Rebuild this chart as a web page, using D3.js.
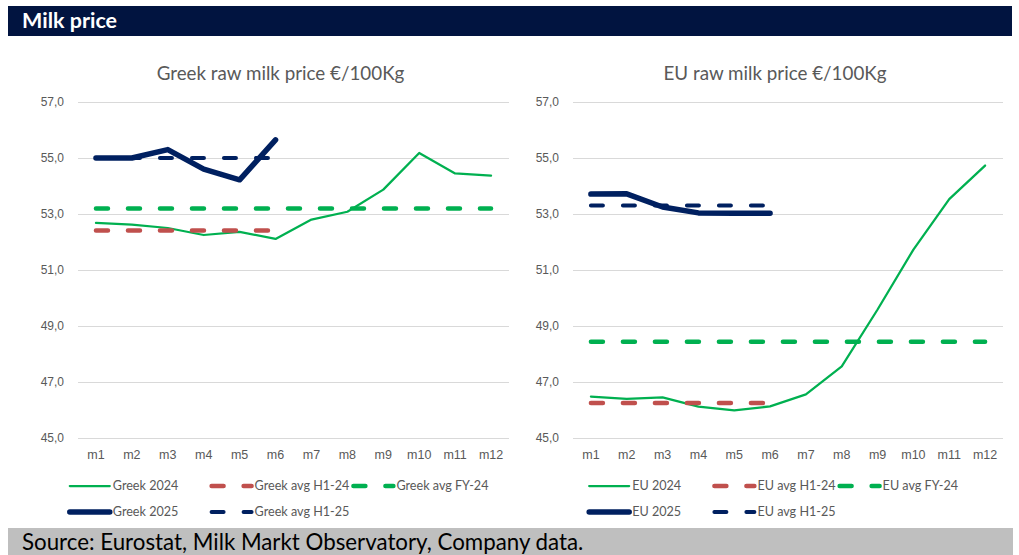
<!DOCTYPE html>
<html>
<head>
<meta charset="utf-8">
<script src="https://cdn.jsdelivr.net/npm/d3@7"></script>
<style>
  body { margin: 0; background: #fff; }
  svg { display: block; font-family: Lato, 'Open Sans', sans-serif; }
</style>
</head>
<body>
<svg id="chart" width="1019" height="555"></svg>
<script>
const months = ['m1', 'm2', 'm3', 'm4', 'm5', 'm6', 'm7', 'm8', 'm9', 'm10', 'm11', 'm12'];
const yTicks = [45, 47, 49, 51, 53, 55, 57];

// Greek raw milk price
const greek2024 = [52.68, 52.62, 52.5, 52.25, 52.36, 52.11, 52.8, 53.08, 53.87, 55.18, 54.45, 54.37];
const greekAvgH124 = [52.41, 52.41, 52.41, 52.41, 52.41, 52.41];
const greekAvgFY24 = [53.2, 53.2, 53.2, 53.2, 53.2, 53.2, 53.2, 53.2, 53.2, 53.2, 53.2, 53.2];
const greek2025 = [55.0, 55.0, 55.3, 54.6, 54.22, 55.65];
const greekAvgH125 = [55.0, 55.0, 55.0, 55.0, 55.0, 55.0];

// EU raw milk price
const eu2024 = [46.48, 46.4, 46.45, 46.12, 45.99, 46.13, 46.56, 47.56, 49.59, 51.73, 53.53, 54.73];
const euAvgH124 = [46.25, 46.25, 46.25, 46.25, 46.25, 46.25];
const euAvgFY24 = [48.44, 48.44, 48.44, 48.44, 48.44, 48.44, 48.44, 48.44, 48.44, 48.44, 48.44, 48.44];
const eu2025 = [53.71, 53.72, 53.25, 53.04, 53.03, 53.03];
const euAvgH125 = [53.3, 53.3, 53.3, 53.3, 53.3, 53.3];

const GREEN = '#00B050';
const RED = '#C0504D';
const NAVY = '#002060';
const TXT = '#595959';

const svg = d3.select('#chart');

// header bar
svg.append('rect')
  .attr('x', 8).attr('y', 6)
  .attr('width', 1004).attr('height', 30)
  .attr('fill', '#011440');
svg.append('text')
  .attr('x', 22).attr('y', 28)
  .attr('fill', '#fff')
  .style('font-size', '21.5px')
  .style('font-weight', 'bold')
  .text('Milk price');

// footer bar
svg.append('rect')
  .attr('x', 8).attr('y', 528)
  .attr('width', 1005).attr('height', 27)
  .attr('fill', '#BFBFBF');
svg.append('text')
  .attr('x', 22).attr('y', 550)
  .attr('fill', '#000')
  .style('font-size', '22.3px')
  .text('Source: Eurostat, Milk Markt Observatory, Company data.');

const drawChart = (cfg) => {
  const g = svg.append('g');
  const x = d3.scaleBand().domain(months).range([cfg.x0, cfg.x1]);
  const y = d3.scaleLinear().domain([45, 57]).range([438, 102]);
  const cx = d => x(d) + x.bandwidth() / 2;
  const centre = (cfg.x0 + cfg.x1) / 2 - 11;

  g.append('text')
    .attr('x', centre - 2).attr('y', 80)
    .attr('text-anchor', 'middle')
    .attr('fill', TXT)
    .style('font-size', '18.8px')
    .text(cfg.title);

  // grid + y labels
  const yAxis = g.append('g')
    .attr('transform', `translate(${cfg.x0},0)`)
    .call(d3.axisLeft(y).tickValues(yTicks).tickFormat(d => d3.format('.1f')(d).replace('.', ','))
      .tickSize(-(cfg.x1 - cfg.x0)).tickPadding(14));
  yAxis.select('.domain').remove();
  yAxis.selectAll('.tick line').attr('stroke', '#D9D9D9');
  yAxis.selectAll('.tick text').attr('fill', TXT).style('font-size', '12px').style('font-family', 'inherit');

  // x labels
  const xAxis = g.append('g')
    .attr('transform', 'translate(0,438)')
    .call(d3.axisBottom(x).tickSize(0).tickPadding(12));
  xAxis.select('.domain').remove();
  xAxis.selectAll('.tick text').attr('fill', TXT).style('font-size', '12.5px').style('font-family', 'inherit');

  const line = d3.line()
    .x((d, i) => cx(months[i]))
    .y(d => y(d));

  cfg.series.forEach(s => {
    g.append('path')
      .datum(s.values)
      .attr('d', line)
      .attr('fill', 'none')
      .attr('stroke', s.color)
      .attr('stroke-width', s.width)
      .attr('stroke-linecap', 'round')
      .attr('stroke-linejoin', 'round')
      .attr('stroke-dasharray', s.dash || null);
  });

  // legend: three uniform columns, two rows
  const legend = g.append('g');
  const items = cfg.series.map((s, i) => {
    const item = legend.append('g');
    item.append('line')
      .attr('x1', 0).attr('x2', 40)
      .attr('stroke', s.color)
      .attr('stroke-width', s.width)
      .attr('stroke-linecap', 'round')
      .attr('stroke-dasharray', s.dash || null);
    item.append('text')
      .attr('x', 43).attr('dy', '0.35em')
      .attr('fill', TXT)
      .style('font-size', '12.6px')
      .text(s.name);
    return item;
  });
  const colW = d3.max(items, it => it.node().getBBox().width) + 4;
  const startX = centre - colW * 1.5;
  const slots = [[0, 0], [1, 0], [2, 0], [0, 1], [1, 1]];
  items.forEach((it, i) => {
    const [c, r] = slots[i];
    it.attr('transform', `translate(${startX + c * colW},${486 + r * 26})`);
  });
};

const dash = '12,20';

drawChart({
  x0: 78, x1: 509,
  title: 'Greek raw milk price €/100Kg',
  series: [
    { name: 'Greek 2024', values: greek2024, color: GREEN, width: 2.25 },
    { name: 'Greek avg H1-24', values: greekAvgH124, color: RED, width: 4.5, dash },
    { name: 'Greek avg FY-24', values: greekAvgFY24, color: GREEN, width: 4.5, dash },
    { name: 'Greek 2025', values: greek2025, color: NAVY, width: 5.5 },
    { name: 'Greek avg H1-25', values: greekAvgH125, color: NAVY, width: 4, dash }
  ]
});

drawChart({
  x0: 573, x1: 1003,
  title: 'EU raw milk price €/100Kg',
  series: [
    { name: 'EU 2024', values: eu2024, color: GREEN, width: 2.25 },
    { name: 'EU avg H1-24', values: euAvgH124, color: RED, width: 4.5, dash },
    { name: 'EU avg FY-24', values: euAvgFY24, color: GREEN, width: 4.5, dash },
    { name: 'EU 2025', values: eu2025, color: NAVY, width: 5.5 },
    { name: 'EU avg H1-25', values: euAvgH125, color: NAVY, width: 4, dash }
  ]
});
</script>
</body>
</html>
